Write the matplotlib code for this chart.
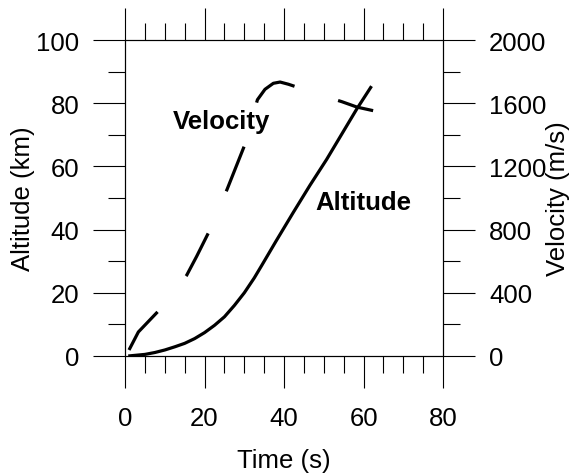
import matplotlib
matplotlib.use('Agg')
import matplotlib.pyplot as plt
from matplotlib.ticker import MultipleLocator

# Rocket ascent: altitude (left axis) and velocity (right axis) against time.

alt_time = [0.8, 2.5, 5, 7.5, 10, 12.5, 15, 17.5, 20, 22.5, 25, 27.5, 30, 32.5, 34.4, 38,
            42.3, 46.5, 50.7, 54.5, 58.3, 62]
altitude = [0, 0.2, 0.5, 1.1, 1.9, 2.9, 4.0, 5.5, 7.4, 9.7, 12.4, 16, 20, 24.7, 28.7, 36.4,
            45.4, 54, 62.2, 70.2, 78.2, 85.4]

vel_time = [1, 3.35, 8.4, 12, 15.5, 18, 21, 25.7, 30.2, 31.8, 33.3, 35.2, 37.3, 39, 41.1,
            43.6, 50, 54.5, 58.4, 62.4]
velocity = [38, 152, 285, 390, 511, 630, 781, 1057, 1342, 1490, 1622, 1688, 1726, 1734, 1720,
            1699, 1645, 1610, 1575, 1553]

plt.rcParams['font.family'] = ['Liberation Sans', 'DejaVu Sans']
plt.rcParams['font.size'] = 18.5
plt.rcParams['lines.scale_dashes'] = False

fig = plt.figure(figsize=(5.71, 4.77), dpi=100)
ax = fig.add_axes([0.219, 0.2516, 0.557, 0.6624])
ax2 = ax.twinx()

ax.plot(alt_time, altitude, color='black', linewidth=2.3, solid_capstyle='butt')
ax2.plot(vel_time, velocity, color='black', linewidth=2.3, dashes=(34.6, 33))

ax.set_xlim(0, 80)
ax.set_ylim(0, 100)
ax2.set_ylim(0, 2000)

ax.xaxis.set_major_locator(MultipleLocator(20))
ax.xaxis.set_minor_locator(MultipleLocator(5))
ax.yaxis.set_major_locator(MultipleLocator(20))
ax.yaxis.set_minor_locator(MultipleLocator(10))
ax2.yaxis.set_major_locator(MultipleLocator(400))
ax2.yaxis.set_minor_locator(MultipleLocator(200))

for a in (ax, ax2):
    a.tick_params(which='major', direction='out', length=23, width=0.8, pad=10)
    a.tick_params(which='minor', direction='out', length=12, width=0.8)
    for s in a.spines.values():
        s.set_linewidth(0.8)
ax.tick_params(which='both', top=True, labeltop=False)
ax.tick_params(axis='x', which='major', pad=13)

ax.set_xlabel('Time (s)', labelpad=13)
ax.set_ylabel('Altitude (km)', labelpad=1)
ax2.set_ylabel('Velocity (m/s)')
ax2.yaxis.set_label_coords(1.325, 0.5)

ax.text(24.3, 74.5, 'Velocity', fontweight='bold', ha='center', va='center')
ax.text(60, 48.6, 'Altitude', fontweight='bold', ha='center', va='center')

plt.savefig('out.png', dpi=100)
